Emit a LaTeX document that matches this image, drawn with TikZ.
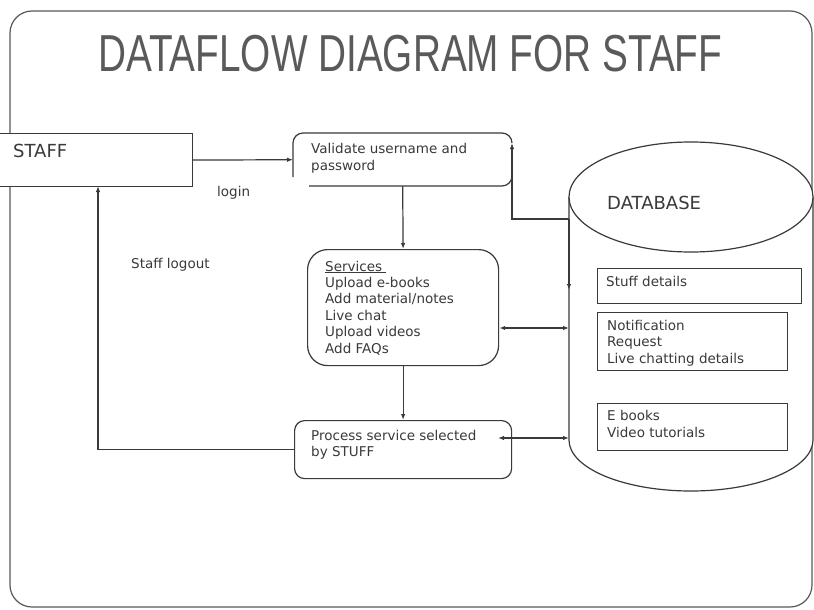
\documentclass[tikz,border=0pt]{standalone}
\usepackage{fontspec}
\setmainfont{DejaVu Sans}
\newfontfamily\titlefont{Liberation Sans}
\usetikzlibrary{arrows.meta}

\definecolor{ink}{HTML}{3A3A3A}
\definecolor{titlegray}{HTML}{5A5A5A}

\begin{document}
\begin{tikzpicture}[x=1pt,y=-1pt,
  line/.style={draw=ink,line width=1.2pt},
  frame/.style={draw=ink!85,line width=1.2pt,rounded corners=22pt},
  flow/.style={line,-{Latex[length=6pt,width=4.5pt]}},
  dflow/.style={line,{Latex[length=6pt,width=4.5pt]}-{Latex[length=6pt,width=4.5pt]}},
  store/.style={line,fill=white,inner sep=0pt},
  % multi-line labels are placed by the baseline of their last line
  lbl/.style={inner sep=0pt,anchor=base west,text=ink,align=left,
              font=\fontsize{13.5}{16.4}\selectfont},
  biglbl/.style={lbl,font=\fontsize{18}{21}\selectfont},
  titlelbl/.style={inner sep=0pt,anchor=base west,text=titlegray,
              font=\titlefont\fontsize{52}{60}\selectfont,xscale=0.745},
]
\useasboundingbox (0,0) rectangle (814,610);
\fill[white] (0,0) rectangle (814,610);

% outer frame
\draw[frame] (10,11) rectangle (812,607);

% heading
\node[titlelbl] (title) at (98,71) {DATAFLOW DIAGRAM FOR STAFF};

% external entity (left edge runs off the page)
\node[store,minimum width=200pt,minimum height=53pt,anchor=north east] (staff) at (193,133) {};
\node[biglbl] (stafftext) at (13,157) {STAFF};

% validation process: open outline
\node[inner sep=0pt,minimum width=219pt,minimum height=53pt,anchor=north west] (validate) at (293,133) {};
\draw[line] (293,177) -- (293,143) arc[start angle=180,end angle=90,radius=10pt]
  -- (502,133) arc[start angle=90,end angle=0,radius=10pt];
\draw[line] (309,186) -- (502,186) arc[start angle=270,end angle=360,radius=10pt];
\node[lbl] (validatetext) at (311,170) {Validate username and\\password};

% services process
\node[store,rounded corners=20pt,minimum width=191pt,minimum height=116pt,anchor=north west] (services) at (307,249) {};
\node[lbl] (servicestext) at (325,353) {\underline{Services\ }\\Upload e-books\\Add material/notes\\Live chat\\Upload videos\\Add FAQs};

% service processing
\node[store,rounded corners=10pt,minimum width=217pt,minimum height=58pt,anchor=north west] (process) at (294,420) {};
\node[lbl,font=\fontsize{13.5}{15.5}\selectfont] (processtext) at (311,456) {Process service selected\\by STUFF};

% database cylinder
\draw[line,fill=white] (569,197) -- (569,440)
  arc[start angle=180,end angle=360,x radius=122pt,y radius=51pt] -- (813,197);
\draw[line,fill=white] (691,197) ellipse[x radius=122pt,y radius=55pt];
\node[biglbl] (dbtext) at (607,209) {DATABASE};

\node[store,minimum width=204pt,minimum height=35pt,anchor=north west] (stuff) at (597,268) {};
\node[lbl] (stufftext) at (606,286) {Stuff details};
\node[store,minimum width=190pt,minimum height=58pt,anchor=north west] (notif) at (597,312) {};
\node[lbl] (notiftext) at (607,363) {Notification\\Request\\Live chatting details};
\node[store,minimum width=190pt,minimum height=47pt,anchor=north west] (ebooks) at (597,403) {};
\node[lbl] (ebookstext) at (607,437) {E books\\Video tutorials};

% flow labels
\node[lbl] (login) at (217,196) {login};
\node[lbl] (logout) at (131,268) {Staff logout};

% connector end points
\coordinate (staffbottom) at (98,186);
\coordinate (dbjoin) at (569,219);
\coordinate (dbdown) at (569,290);
\coordinate (validatein) at (512,143);
\coordinate (dbsvc) at (569,328);
\coordinate (procin) at (498,438);
\coordinate (dbproc) at (569,438);

% data flows
\draw[flow] (staff.east) -- (validate.west);
\draw[flow] (validate.south) -- (services.north);
\draw[flow] (services.south) -- (process.north);
\draw[flow] (process.west) -| (staffbottom);
\draw[flow] (dbjoin) -| (validatein);
\draw[flow] (dbjoin) -- (dbdown);
\draw[dflow] (services.east |- dbsvc) -- (dbsvc);
\draw[dflow] (procin) -- (dbproc);
\end{tikzpicture}
\end{document}
